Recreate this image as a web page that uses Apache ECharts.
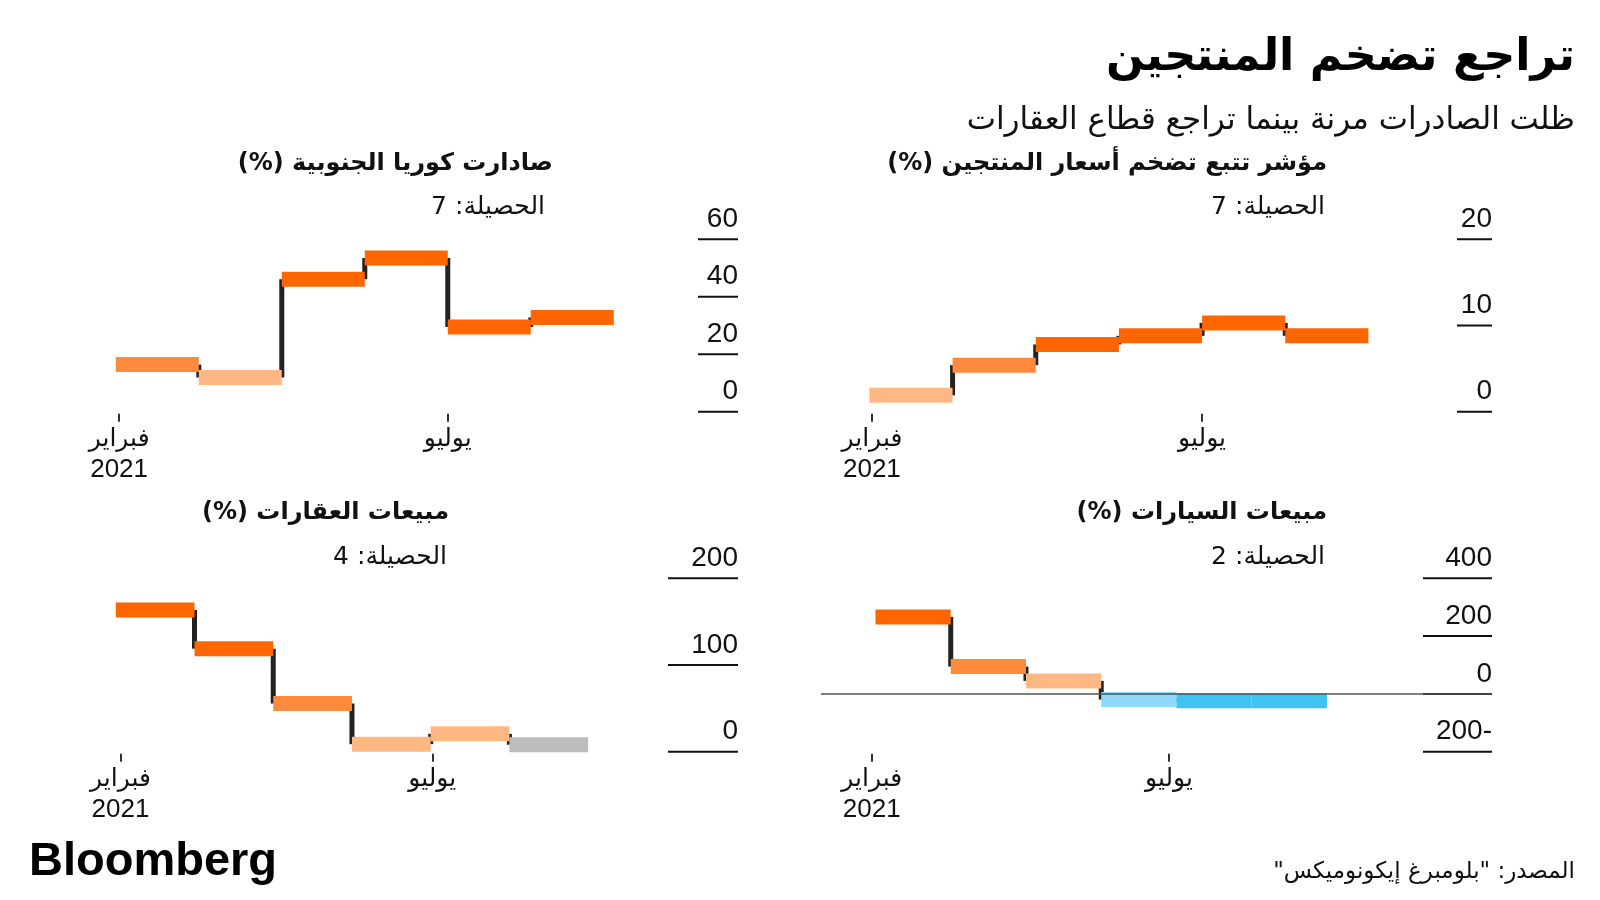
<!DOCTYPE html>
<html>
<head>
<meta charset="utf-8">
<script src="https://cdn.jsdelivr.net/npm/echarts@6/dist/echarts.min.js"></script>
<style>
html,body{margin:0;padding:0;background:#fff;}
#chart{width:1600px;height:900px;direction:rtl;}
</style>
</head>
<body>
<div id="chart" dir="rtl"></div>
<script>
// ---------- DATA ----------
const mainTitle = 'تراجع تضخم المنتجين';
const subTitle = 'ظلت الصادرات مرنة بينما تراجع قطاع العقارات';
const sourceText = 'المصدر: "بلومبرغ إيكونوميكس"';
const scoreLabel = 'الحصيلة';

const xTickLabels = ['فبراير\n2021', 'يوليو'];

// Panel: producer inflation tracker (top right)
const ppiTitle = 'مؤشر تتبع تضخم أسعار المنتجين (%)';
const ppiScore = 7;
const ppiValues = [1.9, 5.4, 7.8, 8.8, 10.3, 8.8];
const ppiLevels = ['mild', 'warm', 'hot', 'hot', 'hot', 'hot'];
const ppiTicks = [0.03, 4.0];
const ppiY = [0, 20, 10];

// Panel: South Korea exports (top left)
const exportTitle = 'صادارت كوريا الجنوبية (%)';
const exportScore = 7;
const exportValues = [16.4, 11.9, 46.1, 53.5, 29.5, 32.8];
const exportLevels = ['warm', 'mild', 'hot', 'hot', 'hot', 'hot'];
const exportTicks = [0.04, 4.0];
const exportY = [0, 60, 20];

// Panel: car sales (bottom right)
const carTitle = 'مبيعات السيارات (%)';
const carScore = 2;
const carValues = [266.5, 94.6, 45, -19.6, -24, -24];
const carLevels = ['hot', 'warm', 'mild', 'cool', 'cold', 'cold'];
const carTicks = [-0.05, 3.9];
const carY = [-200, 400, 200];

// Panel: property sales (bottom left)
const propTitle = 'مبيعات العقارات (%)';
const propScore = 4;
const propValues = [163.5, 118.8, 55.6, 8.7, 20.6, 8.1];
const propLevels = ['hot', 'hot', 'warm', 'mild', 'mild', 'flat'];
const propTicks = [0.06, 4.02];
const propY = [0, 200, 100];

// ---------- STYLE ----------
const palette = {
  hot: '#ff6600', warm: '#ff8a3d', mild: '#ffb784',
  flat: '#bdbdbd', cool: '#8dd8fb', cold: '#3fc3f3'
};
const AR = "'DejaVu Sans', sans-serif";
const NUM = "'Liberation Sans', Arial, sans-serif";
const INK = '#111';

const panels = [
  {t: ppiTitle, s: ppiScore, v: ppiValues, l: ppiLevels, ticks: ppiTicks, y: ppiY, zero: false,
   grid: {left: 821, top: 239.3, width: 671, height: 172.4}, xr: [-0.582, 7.486], tl: 35,
   tx: 1327, ty: 164, sx: 1325, sy: 207},
  {t: exportTitle, s: exportScore, v: exportValues, l: exportLevels, ticks: exportTicks, y: exportY, zero: false,
   grid: {left: 67, top: 239.3, width: 671, height: 172.4}, xr: [-0.588, 7.497], tl: 40,
   tx: 553, ty: 164, sx: 545, sy: 207},
  {t: carTitle, s: carScore, v: carValues, l: carLevels, ticks: carTicks, y: carY, zero: true,
   grid: {left: 821, top: 578.3, width: 671, height: 173.4}, xr: [-0.724, 8.193], tl: 69,
   tx: 1327, ty: 513, sx: 1325, sy: 557},
  {t: propTitle, s: propScore, v: propValues, l: propLevels, ticks: propTicks, y: propY, zero: false,
   grid: {left: 67, top: 578.3, width: 671, height: 173.4}, xr: [-0.62, 7.904], tl: 70,
   tx: 449, ty: 513, sx: 447, sy: 557}
];

const grids = [], xAxes = [], yAxes = [], series = [], graphics = [];

panels.forEach((p, k) => {
  grids.push(Object.assign({containLabel: false}, p.grid));
  xAxes.push({
    type: 'value', gridIndex: k, min: p.xr[0], max: p.xr[1], offset: 2,
    axisLine: {show: false, onZero: false}, splitLine: {show: false},
    axisTick: {show: true, customValues: p.ticks, length: 8, lineStyle: {color: '#333', width: 2}},
    axisLabel: {
      show: true, customValues: p.ticks, margin: 11,
      formatter: function (val) {
        let idx = 0, best = 1e9;
        p.ticks.forEach((t, j) => { if (Math.abs(t - val) < best) { best = Math.abs(t - val); idx = j; } });
        const parts = xTickLabels[idx].split('\n');
        return parts.length > 1 ? '{a|' + parts[0] + '}\n{b|' + parts[1] + '}' : '{a|' + parts[0] + '}';
      },
      rich: {
        a: {fontFamily: AR, fontSize: 25, lineHeight: 30, color: INK, align: 'center'},
        b: {fontFamily: NUM, fontSize: 26, lineHeight: 30, color: INK, align: 'center'}
      }
    }
  });
  yAxes.push({
    type: 'value', gridIndex: k, position: 'right', min: p.y[0], max: p.y[1], interval: p.y[2],
    axisLine: {show: false, onZero: false}, splitLine: {show: false}, axisTick: {show: false},
    axisLabel: {inside: true, margin: 0, align: 'right', verticalAlign: 'bottom',
      padding: [0, 0, 6, 0], fontFamily: NUM, fontSize: 28, color: INK}
  });

  // short underline marks at each y tick, drawn against the right edge of the plot
  const yTickValues = [];
  for (let v = p.y[0]; v <= p.y[1] + 1e-9; v += p.y[2]) yTickValues.push([v]);
  const xRight = p.xr[1], tickLen = p.tl;
  series.push({
    type: 'custom', xAxisIndex: k, yAxisIndex: k, z: 4, silent: true,
    data: yTickValues,
    renderItem: function (params, api) {
      const q = api.coord([xRight, api.value(0)]);
      return {type: 'line', shape: {x1: q[0] - tickLen, y1: q[1], x2: q[0], y2: q[1]},
        style: {stroke: INK, lineWidth: 2}};
    }
  });

  const levels = p.l;
  // connectors
  const conn = [];
  for (let i = 1; i < p.v.length; i++) conn.push([i, p.v[i - 1], p.v[i]]);
  series.push({
    type: 'custom', xAxisIndex: k, yAxisIndex: k, z: 2, silent: true,
    data: conn,
    renderItem: function (params, api) {
      const a = api.coord([api.value(0), api.value(1)]);
      const b = api.coord([api.value(0), api.value(2)]);
      return {type: 'line', shape: {x1: a[0], y1: a[1], x2: b[0], y2: b[1]},
        style: {stroke: '#222', lineWidth: 5}};
    }
  });
  // horizontal step segments
  const segs = p.v.map((v, i) => [i, v]);
  series.push({
    type: 'custom', xAxisIndex: k, yAxisIndex: k, z: 3, silent: true,
    data: segs,
    renderItem: function (params, api) {
      const i = api.value(0), v = api.value(1);
      const a = api.coord([i, v]);
      const b = api.coord([i + 1, v]);
      return {type: 'rect', shape: {x: a[0], y: a[1] - 7.5, width: b[0] - a[0], height: 15},
        style: {fill: palette[levels[i]]}};
    }
  });
  if (p.zero) {
    series.push({
      type: 'custom', xAxisIndex: k, yAxisIndex: k, z: 1, silent: true, data: [],
      renderItem: function () { return null; },
      markLine: {silent: true, symbol: 'none', label: {show: false},
        lineStyle: {color: '#555', width: 1.5, type: 'solid'},
        data: [{yAxis: 0}]}
    });
  }

  graphics.push({type: 'text', x: p.tx, y: p.ty, style: {text: p.t, align: 'right', verticalAlign: 'middle',
    font: 'bold 24px ' + AR, fill: INK}});
  graphics.push({type: 'text', x: p.sx, y: p.sy, style: {text: scoreLabel + ': ' + p.s, align: 'right', verticalAlign: 'middle',
    font: '25px ' + AR, fill: INK}});
});

graphics.push({type: 'text', x: 1575, y: 58, style: {text: mainTitle, align: 'right', verticalAlign: 'middle',
  font: 'bold 44.5px ' + AR, fill: '#000'}});
graphics.push({type: 'text', x: 1575, y: 121, style: {text: subTitle, align: 'right', verticalAlign: 'middle',
  font: '31px ' + AR, fill: INK}});
graphics.push({type: 'text', x: 1575, y: 872, style: {text: sourceText, align: 'right', verticalAlign: 'middle',
  font: '23px ' + AR, fill: INK}});
graphics.push({type: 'text', x: 29, y: 862, style: {text: 'Bloomberg', align: 'left', verticalAlign: 'middle',
  font: 'bold 47px ' + NUM, fill: '#000'}});

const chart = echarts.init(document.getElementById('chart'), null, {renderer: 'canvas'});
chart.setOption({
  animation: false,
  backgroundColor: '#fff',
  grid: grids, xAxis: xAxes, yAxis: yAxes, series: series,
  graphic: graphics
});
</script>
</body>
</html>
